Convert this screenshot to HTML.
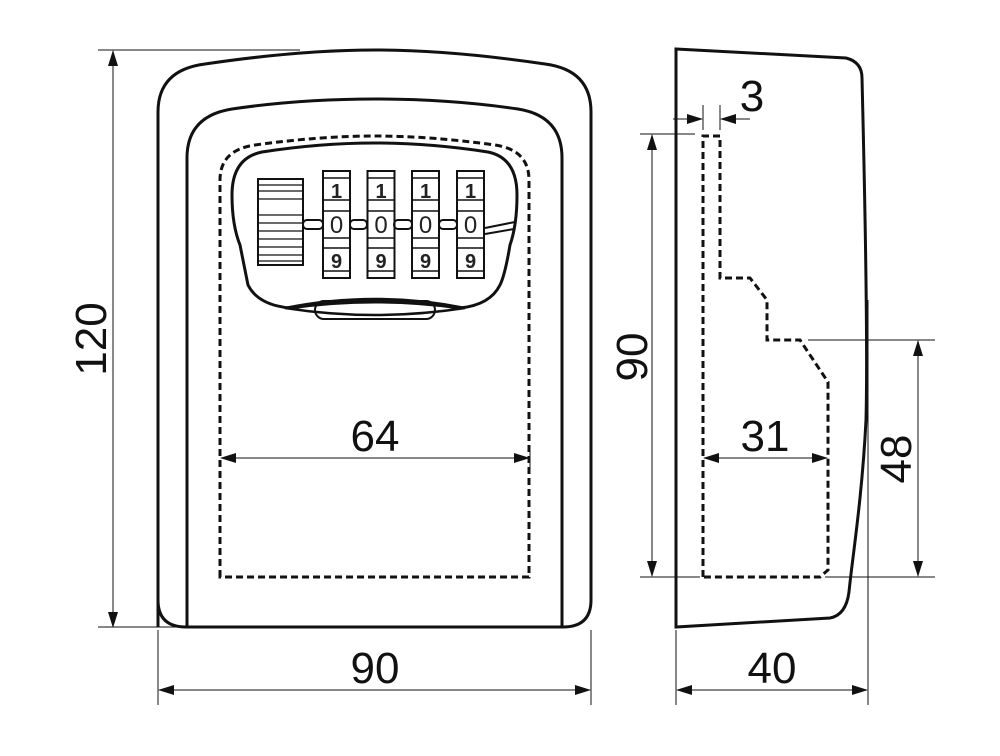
<!DOCTYPE html>
<html><head><style>body{margin:0;background:#fff}svg{display:block}</style></head><body>
<svg width="1000" height="756" viewBox="0 0 1000 756" xmlns="http://www.w3.org/2000/svg" font-family="Liberation Sans, sans-serif">
<defs>
<marker id="a" markerWidth="16" markerHeight="10" refX="15" refY="5" orient="auto-start-reverse" markerUnits="userSpaceOnUse"><path d="M0,0 L16,5 L0,10 Z" fill="#111"/></marker>
</defs>
<g fill="none" stroke="#111" stroke-width="3">
<path d="M158,627 L158,112 Q158,70 205,64 Q300,50 375,50 Q450,50 545,64 Q591,70 591,112 L591,600 Q591,627 563,627 L186,627 Q158,627 158,600 Z"/>
<path d="M187,627 L187,158 Q187,116 232,109 Q300,99 375,99 Q450,99 518,109 Q562,116 562,158 L562,627"/>
<path d="M232,195 Q232,158 262,152 Q320,143 375,143 Q430,143 488,152 Q517,158 517,195 Q517,225 510,245 Q505,275 500,285 Q490,305 460,308 Q375,296 290,308 Q258,305 248,285 Q243,260 240,245 Q232,225 232,195 Z"/>
<path d="M285,308 Q375,290 465,308 Q375,322 285,308 Z" stroke-width="2.5"/>
<rect x="315" y="301" width="120" height="18" rx="9" stroke-width="2"/>
<path d="M485,228 L515,222 M485,234 L514,229" stroke-width="2"/>
</g>
<g fill="none" stroke="#111" stroke-width="2">
<rect x="258" y="179" width="45" height="86"/>
<path d="M258,185H303M258,191H303M258,199H303M258,215H303M258,223H303M258,231H303M258,239H303M258,247H303M258,255H303M258,261H303" stroke-width="1.3"/>
<g id="w"><rect x="323" y="171" width="27" height="107"/><path d="M323,178H350M323,200H350M323,211H350M323,238H350M323,248H350M323,271H350" stroke-width="1.5"/></g>
<use href="#w" x="44.5"/><use href="#w" x="89"/><use href="#w" x="134"/>
<rect x="303" y="220" width="20" height="9" rx="4"/><rect x="350" y="220" width="17" height="9" rx="4"/><rect x="394" y="220" width="18" height="9" rx="4"/><rect x="439" y="220" width="18" height="9" rx="4"/>
</g>
<g font-size="20" text-anchor="middle" fill="#222" font-weight="bold">
<text x="336.5" y="198">1</text><text x="381" y="198">1</text><text x="425.5" y="198">1</text><text x="470.5" y="198">1</text>
<text x="336.5" y="268">9</text><text x="381" y="268">9</text><text x="425.5" y="268">9</text><text x="470.5" y="268">9</text>
</g>
<g font-size="24" text-anchor="middle" fill="#222">
<text x="336.5" y="233">0</text><text x="381" y="233">0</text><text x="425.5" y="233">0</text><text x="470.5" y="233">0</text>
</g>
<g fill="none" stroke="#111" stroke-width="3" stroke-dasharray="7,4">
<path d="M220,577 L220,180 Q220,150 255,145 Q320,136 375,136 Q430,136 495,145 Q529,150 529,180 L529,577 Z"/>
<path d="M703,577 L703,136 L720,136 L720,278 L750,278 L767,300 L767,340 L800,340 L828,382 L828,570 L820,577 Z"/>
</g>
<path d="M676,49 L846,58 Q862,62 862,78 C865,200 868,340 866,420 C862,500 852,560 849,592 Q846,615 830,618 L676,627 Z" fill="none" stroke="#111" stroke-width="3"/>
<g stroke="#111" stroke-width="1" fill="none">
<path d="M98,50H300M98,627H185M158,630V705M591,630V705M640,134H695M640,577H700M808,340H935M825,577H935M676,630V705M868,300V705M703,105V130M720,105V130M530,448V468"/>
<path d="M113,627V51" marker-end="url(#a)" marker-start="url(#a)"/>
<path d="M159,690H590" marker-end="url(#a)" marker-start="url(#a)"/>
<path d="M221,458H529" marker-end="url(#a)" marker-start="url(#a)"/>
<path d="M652,135V576" marker-end="url(#a)" marker-start="url(#a)"/>
<path d="M918,341V576" marker-end="url(#a)" marker-start="url(#a)"/>
<path d="M704,458H827" marker-end="url(#a)" marker-start="url(#a)"/>
<path d="M677,690H867" marker-end="url(#a)" marker-start="url(#a)"/>
<path d="M673,119H702" marker-end="url(#a)"/>
<path d="M750,119H721" marker-end="url(#a)"/>
</g>
<g font-size="44" text-anchor="middle" fill="#111">
<text x="375" y="683">90</text>
<text x="375" y="451">64</text>
<text x="765" y="451">31</text>
<text x="772" y="683">40</text>
<text x="752" y="111">3</text>
<text transform="translate(106,339) rotate(-90)">120</text>
<text transform="translate(647,357) rotate(-90)">90</text>
<text transform="translate(911,459) rotate(-90)">48</text>
</g>
</svg>
</body></html>
